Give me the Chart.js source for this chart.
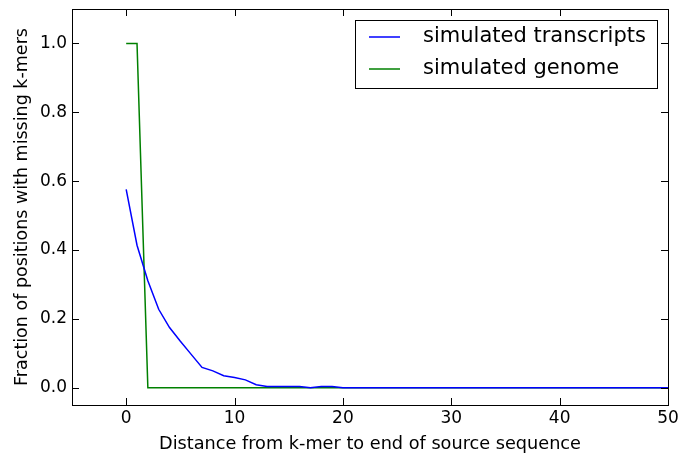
<!DOCTYPE html>
<html>
<head>
<meta charset="utf-8">
<script src="https://cdn.jsdelivr.net/npm/chart.js@4/dist/chart.umd.min.js"></script>
<style>
  html, body { margin: 0; padding: 0; background: #fff; }
  #wrap { width: 681px; height: 455px; position: relative; }
</style>
</head>
<body>
<div id="wrap"><canvas id="chart"></canvas></div>
<script>
// distance from k-mer to end of source sequence
const distance = [0, 1, 2, 3, 4, 5, 6, 7, 8, 9, 10, 11, 12, 13, 14, 15, 16, 17, 18, 19, 20,
  21, 22, 23, 24, 25, 26, 27, 28, 29, 30, 31, 32, 33, 34, 35, 36, 37, 38, 39, 40,
  41, 42, 43, 44, 45, 46, 47, 48, 49, 50];

const transcripts = [0.576, 0.414, 0.311, 0.228, 0.175, 0.135, 0.097, 0.059, 0.049, 0.035, 0.030,
  0.023, 0.009, 0.004, 0.004, 0.004, 0.004, 0.0, 0.004, 0.004, 0.0,
  0, 0, 0, 0, 0, 0, 0, 0, 0, 0, 0, 0, 0, 0, 0, 0, 0, 0, 0, 0,
  0, 0, 0, 0, 0, 0, 0, 0, 0, 0];

const genome = [1.0, 1.0, 0, 0, 0, 0, 0, 0, 0, 0, 0,
  0, 0, 0, 0, 0, 0, 0, 0, 0, 0,
  0, 0, 0, 0, 0, 0, 0, 0, 0, 0, 0, 0, 0, 0, 0, 0, 0, 0, 0, 0,
  0, 0, 0, 0, 0, 0, 0, 0, 0, 0];

const xTicks = [0, 10, 20, 30, 40, 50];
const yTicks = [0.0, 0.2, 0.4, 0.6, 0.8, 1.0];

const FONT = "'DejaVu Sans', sans-serif";

const pts = (ys) => distance.map((x, i) => ({ x, y: ys[i] }));

// matplotlib-like frame, inward ticks on all sides, and boxed legend
const mplFrame = {
  id: 'mplFrame',
  afterDraw(chart) {
    const { ctx, chartArea: a, scales } = chart;
    ctx.save();
    ctx.strokeStyle = '#000';
    ctx.lineWidth = 1;
    ctx.strokeRect(a.left + 0.5, a.top + 0.5, a.right - a.left, a.bottom - a.top);
    const len = 7;
    ctx.beginPath();
    xTicks.forEach((v) => {
      const px = Math.round(scales.x.getPixelForValue(v)) + 0.5;
      ctx.moveTo(px, a.bottom); ctx.lineTo(px, a.bottom - len);
      ctx.moveTo(px, a.top); ctx.lineTo(px, a.top + len);
    });
    yTicks.forEach((v) => {
      const py = Math.round(scales.y.getPixelForValue(v)) + 0.5;
      ctx.moveTo(a.left, py); ctx.lineTo(a.left + len, py);
      ctx.moveTo(a.right, py); ctx.lineTo(a.right - len, py);
    });
    ctx.stroke();

    // legend
    const bx = 355, by = 20, bw = 302, bh = 68;
    ctx.fillStyle = '#fff';
    ctx.fillRect(bx, by, bw, bh);
    ctx.strokeRect(bx + 0.5, by + 0.5, bw, bh);
    ctx.font = '21px ' + FONT;
    ctx.textBaseline = 'middle';
    chart.data.datasets.forEach((ds, i) => {
      const y = by + 17 + i * 32;
      ctx.strokeStyle = ds.borderColor;
      ctx.lineWidth = 1.5;
      ctx.beginPath();
      ctx.moveTo(bx + 14, y); ctx.lineTo(bx + 45, y);
      ctx.stroke();
      ctx.fillStyle = '#000';
      ctx.fillText(ds.label, bx + 68, y);
    });
    ctx.restore();
  },
};

new Chart(document.getElementById('chart'), {
  type: 'line',
  data: {
    datasets: [
      { label: 'simulated transcripts', data: pts(transcripts), borderColor: '#0000ff', borderWidth: 1.5, pointRadius: 0, tension: 0, fill: false },
      { label: 'simulated genome', data: pts(genome), borderColor: '#008000', borderWidth: 1.5, pointRadius: 0, tension: 0, fill: false },
    ],
  },
  options: {
    responsive: true,
    maintainAspectRatio: false,
    animation: false,
    devicePixelRatio: 1,
    layout: { padding: { left: 0, right: 13, top: 9, bottom: 0 } },
    plugins: { legend: { display: false }, tooltip: { enabled: false } },
    scales: {
      x: {
        type: 'linear',
        min: -5,
        max: 50,
        afterBuildTicks: (s) => { s.ticks = xTicks.map((v) => ({ value: v })); },
        afterFit: (s) => { s.height = 50; s.paddingLeft = 0; s.paddingRight = 0; },
        grid: { display: false, drawTicks: false },
        border: { display: false },
        ticks: { color: '#000', font: { family: FONT, size: 17 }, padding: 3, maxRotation: 0 },
        title: { display: true, text: 'Distance from k-mer to end of source sequence', color: '#000', font: { family: FONT, size: 17.7 }, padding: { top: 0, bottom: 0 } },
      },
      y: {
        min: -0.05,
        max: 1.1,
        afterBuildTicks: (s) => { s.ticks = yTicks.map((v) => ({ value: v })); },
        afterFit: (s) => { s.width = 72; s.paddingTop = 0; s.paddingBottom = 0; },
        grid: { display: false, drawTicks: false },
        border: { display: false },
        ticks: { color: '#000', font: { family: FONT, size: 17 }, padding: 5, callback: (v) => Number(v).toFixed(1) },
        title: { display: true, text: 'Fraction of positions with missing k-mers', color: '#000', font: { family: FONT, size: 17.5 }, padding: { top: 12, bottom: 0 } },
      },
    },
  },
  plugins: [mplFrame],
});
</script>
</body>
</html>
